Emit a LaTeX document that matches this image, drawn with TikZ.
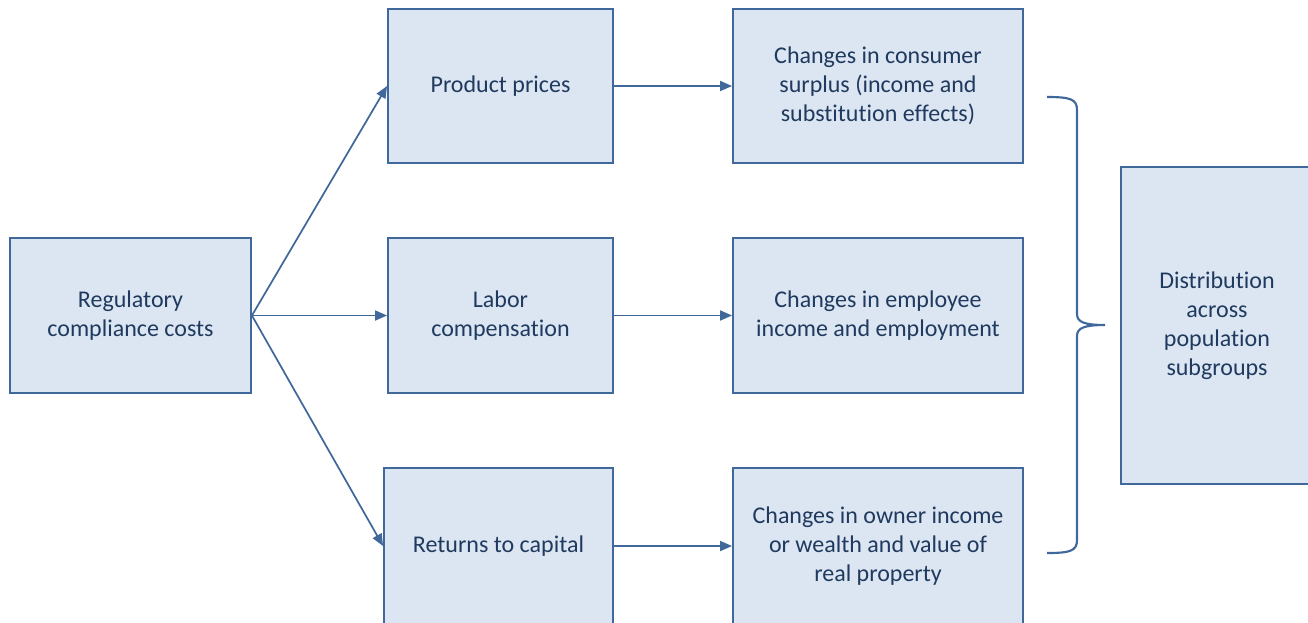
\documentclass[tikz,border=0pt]{standalone}
\usepackage{fontspec}
\setmainfont{Carlito}[Ligatures=NoCommon]
\usepackage{tikz}
\usetikzlibrary{arrows.meta, positioning}
\definecolor{boxfill}{HTML}{DCE6F2}
\definecolor{boxline}{HTML}{41689B}
\definecolor{boxtext}{HTML}{1F3A5E}

\begin{document}
\begin{tikzpicture}[x=0.75pt, y=-0.75pt,
        box/.style={draw=boxline, fill=boxfill, line width=1.4pt, align=center,
            text=boxtext, font=\fontsize{18}{21.75}\selectfont, inner sep=0pt},
        link/.style={draw=boxline, line width=1.3pt, -{Triangle[length=9pt, width=7.5pt]}},
        brace/.style={draw=boxline, line width=1.6pt}]
            \useasboundingbox (0,0) rectangle (1308,622);
            \clip (0,0) rectangle (1308,622);
            \node(costs)[box, minimum width=180.75pt, minimum height=116.25pt] at (130.5, 315.5)
                {Regulatory\\compliance costs};
            \node(prices)[box, minimum width=168.75pt, minimum height=115.5pt] at (500.5, 86)
                {Product prices};
            \node(labor)[box, minimum width=168.75pt, minimum height=116.25pt] at (500.5, 315.5)
                {Labor\\compensation};
            \node(capital)[box, minimum width=171.75pt, minimum height=117pt] at (498.5, 546)
                {Returns to capital};
            \node(consumer)[box, minimum width=217.5pt, minimum height=115.5pt] at (878, 86)
                {Changes in consumer\\surplus (income and\\substitution effects)};
            \node(employee)[box, minimum width=217.5pt, minimum height=116.25pt] at (878, 315.5)
                {Changes in employee\\income and employment};
            \node(owner)[box, minimum width=217.5pt, minimum height=117pt] at (878, 546)
                {Changes in owner income\\or wealth and value of\\real property};
            \node(groups)[box, minimum width=144pt, minimum height=237.75pt] at (1217, 325.5)
                {Distribution\\across\\population\\subgroups};
            \draw[link] (costs.east) -- (prices.west);
            \draw[link] (costs.east) -- (labor.west);
            \draw[link] (costs.east) -- (capital.west);
            \draw[link] (prices.east) -- (consumer.west);
            \draw[link] (labor.east) -- (employee.west);
            \draw[link] (capital.east) -- (owner.west);
            \draw[brace] (1047, 97) .. controls (1070, 97) and (1077, 99) .. (1077, 110)
                -- (1077, 314) .. controls (1077, 322) and (1084, 325) .. (1105, 325)
                .. controls (1084, 325) and (1077, 328) .. (1077, 336)
                -- (1077, 540) .. controls (1077, 551) and (1070, 553) .. (1047, 553);
        \end{tikzpicture}
\end{document}
